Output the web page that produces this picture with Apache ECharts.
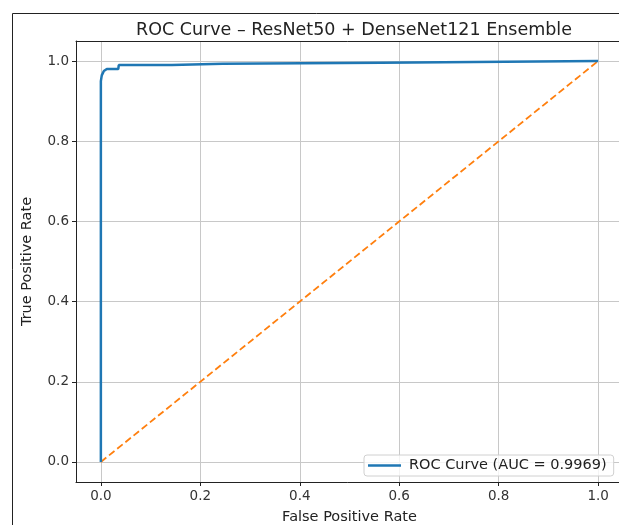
<!DOCTYPE html>
<html>
<head>
<meta charset="utf-8">
<script src="https://cdn.jsdelivr.net/npm/echarts@6/dist/echarts.min.js"></script>
<style>
  html, body { margin: 0; padding: 0; background: #fff; overflow: hidden; }
  #chart { width: 619px; height: 525px; }
</style>
</head>
<body>
<div id="chart"></div>
<script>
// ROC points
const fpr = [0, 0, 0.001, 0.002, 0.004, 0.006, 0.012, 0.035, 0.036, 0.143, 0.144, 0.245, 0.246, 0.563, 0.564, 1.0]
const tpr = [0, 0.95, 0.958, 0.965, 0.97, 0.975, 0.98, 0.98, 0.99, 0.99, 0.993, 0.993, 0.996, 0.996, 1.0, 1.0]
const chanceX = [0, 1]
const chanceY = [0, 1]
const tickValues = [0, 0.2, 0.4, 0.6, 0.8, 1.0]
const rocName = 'ROC Curve (AUC = 0.9969)'

const font = 'DejaVu Sans'
const chart = echarts.init(document.getElementById('chart'))

const axisCommon = {
  type: 'value',
  min: -0.05,
  max: 1.05,
  axisLine: { show: true, onZero: false, lineStyle: { color: '#222', width: 1 } },
  axisTick: { show: true, length: 4, customValues: tickValues, lineStyle: { color: '#222' } },
  axisLabel: {
    customValues: tickValues,
    formatter: v => v.toFixed(1),
    color: '#333', fontFamily: font, fontSize: 13.5, margin: 7
  },
  splitLine: { show: true, lineStyle: { color: '#c8c8c8', width: 1 } },
  nameLocation: 'middle',
  nameTextStyle: { color: '#222', fontFamily: font, fontSize: 14.5 }
}

chart.setOption({
  animation: false,
  title: {
    text: 'ROC Curve – ResNet50 + DenseNet121 Ensemble',
    left: 349, top: 16, textAlign: 'center',
    textStyle: { fontFamily: font, fontSize: 17.5, fontWeight: 'normal', color: '#222' }
  },
  graphic: [{
    type: 'polyline',
    shape: { points: [[12.5, 525], [12.5, 13.5], [630, 13.5]] },
    style: { fill: 'none', stroke: '#222', lineWidth: 1 },
    silent: true
  }],
  grid: {
    left: 76, top: 41, width: 547, height: 441,
    outerBoundsMode: 'none', containLabel: false
  },
  xAxis: [
    Object.assign({}, axisCommon, { name: 'False Positive Rate', nameGap: 28 }),
    // top spine only
    {
      type: 'value', position: 'top', min: -0.05, max: 1.05,
      axisLine: { show: true, onZero: false, lineStyle: { color: '#222', width: 1 } },
      axisTick: { show: false }, axisLabel: { show: false }, splitLine: { show: false }
    }
  ],
  yAxis: Object.assign({}, axisCommon, { name: 'True Positive Rate', nameGap: 41 }),
  legend: {
    data: [rocName],
    left: 364, top: 455,
    orient: 'vertical',
    icon: 'rect', itemWidth: 33, itemHeight: 2.5, itemGap: 0,
    padding: [3, 7, 3, 4],
    borderColor: '#d0d0d0', borderWidth: 1, borderRadius: 3,
    backgroundColor: 'rgba(255,255,255,0.8)',
    textStyle: { fontFamily: font, fontSize: 14.5, color: '#222', padding: [0, 0, 0, 3] }
  },
  series: [
    {
      name: rocName,
      type: 'line',
      data: fpr.map((x, i) => [x, tpr[i]]),
      showSymbol: false,
      lineStyle: { color: '#1f77b4', width: 2.5 },
      itemStyle: { color: '#1f77b4' },
      z: 3
    },
    {
      name: 'chance',
      type: 'line',
      data: chanceX.map((x, i) => [x, chanceY[i]]),
      showSymbol: false,
      lineStyle: { color: '#ff7f0e', width: 1.8, type: [7, 3.5] },
      itemStyle: { color: '#ff7f0e' },
      z: 2
    }
  ]
})
</script>
</body>
</html>
